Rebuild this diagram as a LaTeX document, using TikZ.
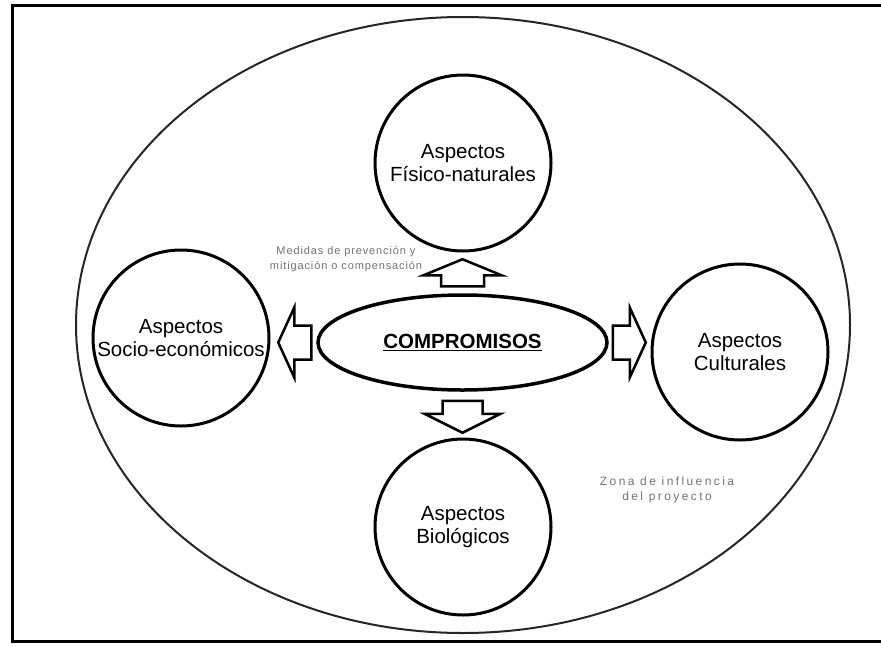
\documentclass[tikz,border=0pt]{standalone}
\usepackage{fontspec}
\setmainfont{Liberation Sans}
\newfontfamily\notefont[LetterSpace=8]{Liberation Sans}
\newfontfamily\zonefont[LetterSpace=20]{Liberation Sans}
\usetikzlibrary{shapes.geometric}
\tikzset{
  aspecto/.style = {circle, draw=black, line width=3pt, minimum size=176pt,
    inner sep=0pt, align=center, font=\fontsize{20.5}{23}\selectfont},
  centro/.style = {ellipse, draw=black, line width=3.5pt, minimum width=289pt,
    minimum height=95pt, inner sep=0pt, font=\fontsize{20.5}{23}\selectfont\bfseries},
  zona/.style = {ellipse, draw=black!85, line width=2pt, minimum width=774pt,
    minimum height=616pt, inner sep=0pt},
  nota/.style = {align=center, text=black!55, inner sep=0pt},
  % flecha de bloque: largo cuerpo / largo punta / medio ancho cuerpo / medio ancho punta
  pics/flecha/.style args={#1/#2/#3/#4}{code={
    \draw[line width=2.5pt, fill=white, line join=miter]
      (0,-#3) -- (#1,-#3) -- (#1,-#4) -- (#1+#2,0) -- (#1,#4) -- (#1,#3) -- (0,#3) -- cycle;
  }}
}
\begin{document}
\begin{tikzpicture}[x=1pt, y=-1pt]
\useasboundingbox (0,0) rectangle (881,646);
\draw[line width=3pt] (881,5) -- (12,5) -- (12,641) -- (881,641);

\node [zona] (zona) at (463,325) {};

\node [aspecto] (fisico) at (463,163) {Aspectos\\Físico-naturales};
\node [aspecto] (socio) at (181,338) {Aspectos\\Socio-económicos};
\node [aspecto] (cultural) at (740,352) {Aspectos\\Culturales};
\node [aspecto] (bio) at (463,527) {Aspectos\\Biológicos};

\node [centro] (comp) at (462.5,342.5) {\underline{COMPROMISOS}};

\pic[rotate=90] at ([yshift=7pt]comp.north) {flecha={11/16/21.5/39}};
\pic[rotate=-90] at ([yshift=-9pt]comp.south) {flecha={13/19/20/38}};
\pic[xscale=-1] at ([xshift=-5pt]comp.west) {flecha={17/16/17/35}};
\pic at ([xshift=4pt]comp.east) {flecha={17/16/17/35}};

\node [nota, font=\notefont\fontsize{11}{15}\selectfont] (medidas) at (346,259)
  {Medidas de prevención y\\mitigación o compensación};
\node [nota, font=\zonefont\fontsize{12}{15}\selectfont] (zonatexto) at (667,490)
  {Zona de influencia\\del proyecto};
\end{tikzpicture}
\end{document}
